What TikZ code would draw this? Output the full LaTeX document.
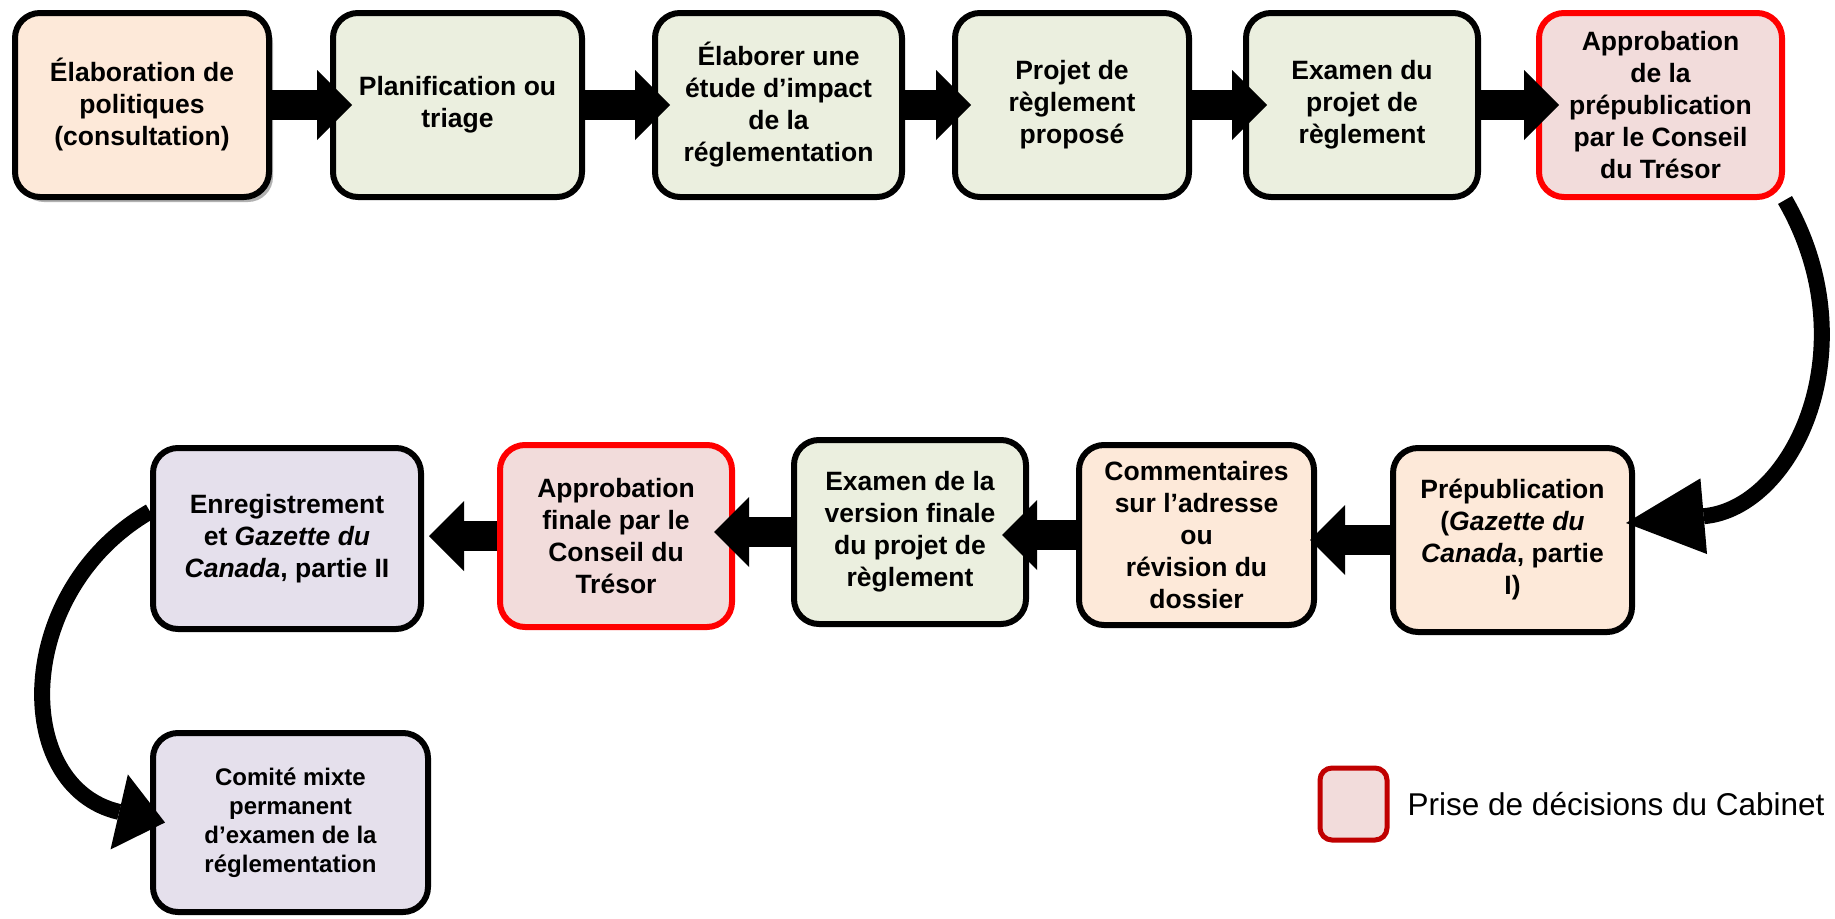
\documentclass[tikz,border=0pt]{standalone}
\usepackage{fontspec}
\setmainfont{Liberation Sans}
\usepackage{tikz}
\usetikzlibrary{arrows.meta}
\usetikzlibrary{positioning}
\usetikzlibrary{calc}
\usetikzlibrary{shadows}
\definecolor{peachfill}{HTML}{FDE9D9}
\definecolor{sagefill}{HTML}{EBEFDF}
\definecolor{cabinetfill}{HTML}{F2DCDB}
\definecolor{lilacfill}{HTML}{E5E0EC}
\definecolor{legendred}{HTML}{C00000}
\tikzset{
    stage/.style={draw=black, line width=6pt, rounded corners=25pt, align=center, inner sep=2pt,
        font=\bfseries\fontsize{26.5}{32}\selectfont},
    peach/.style={stage, fill=peachfill},
    sage/.style={stage, fill=sagefill},
    cabinet/.style={stage, fill=cabinetfill, draw=red},
    lilac/.style={stage, fill=lilacfill},
    flow/.style={draw=black, line width=30pt,
        -{Triangle[length=35pt,width=70pt,line width=0pt]}},
    loopflow/.style={draw=black, line width=16pt},
}

\begin{document}
\begin{tikzpicture}[x=1pt, y=1pt]
		\useasboundingbox (0,0) rectangle (1835,-918);
		% top row
		\node[peach, minimum width=254pt, minimum height=184pt,
			drop shadow={shadow xshift=4pt, shadow yshift=-5pt, fill=black, opacity=0.3}]
			(b1) at (142,-105) {Élaboration de\\politiques\\(consultation)};
		\node[sage, minimum width=249pt, minimum height=184pt] (b2) at (457.5,-105) {Planification ou\\triage};
		\node[sage, minimum width=247pt, minimum height=184pt] (b3) at (778.5,-105) {Élaborer une\\étude d’impact\\de la\\réglementation};
		\node[sage, minimum width=234pt, minimum height=184pt] (b4) at (1072,-105) {Projet de\\règlement\\proposé};
		\node[sage, minimum width=232pt, minimum height=184pt] (b5) at (1362,-105) {Examen du\\projet de\\règlement};
		\node[cabinet, minimum width=243pt, minimum height=184pt] (b6) at (1660.5,-105) {Approbation\\de la\\prépublication\\par le Conseil\\du Trésor};
		%
		\draw[flow] (b1.east) -- ([xshift=22pt]b2.west);
		\draw[flow] (b2.east) -- ([xshift=18pt]b3.west);
		\draw[flow] (b3.east) -- ([xshift=19pt]b4.west);
		\draw[flow] (b4.east) -- ([xshift=24pt]b5.west);
		\draw[flow] (b5.east) -- ([xshift=23pt]b6.west);
		% middle row
		\node[peach, minimum width=239pt, minimum height=184pt] (b7) at (1512.5,-540) {Prépublication\\(\textit{Gazette du}\\\textit{Canada}, partie\\I)};
		\node[peach, minimum width=235pt, minimum height=180pt] (b8) at (1196.5,-535) {Commentaires\\sur l’adresse\\ou\\révision du\\dossier};
		\node[sage, minimum width=232pt, minimum height=184pt] (b9) at (910,-532) {Examen de la\\version finale\\du projet de\\règlement};
		\node[cabinet, minimum width=232pt, minimum height=182pt] (b10) at (616,-536) {Approbation\\finale par le\\Conseil du\\Trésor};
		\node[lilac, minimum width=268pt, minimum height=181pt] (b11) at (287,-538.5) {Enregistrement\\et \textit{Gazette du}\\\textit{Canada}, partie II};
		%
		\draw[loopflow, -{Triangle[length=78pt,width=76pt,line width=0pt]}]
			(b6.south east) to[out=-60, in=5, looseness=1.2] ([xshift=-9pt,yshift=17pt]b7.east);
		\draw[flow] (b7.west) -- ($(b8.east |- b7.west)+(-7,0)$);
		\draw[flow] (b8.west) -- ($(b9.east |- b8.west)+(-27,0)$);
		\draw[flow] (b9.west) -- ($(b10.east |- b9.west)+(-21,0)$);
		\draw[flow] (b10.west) -- ($(b11.east |- b10.west)+(5,0)$);
		% bottom row
		\node[lilac, minimum width=275pt, minimum height=179pt,
			font=\bfseries\fontsize{24}{29}\selectfont]
			(b12) at (290.5,-822.5) {Comité mixte\\permanent\\d’examen de la\\réglementation};
		\draw[loopflow, -{Triangle[length=47pt,width=77pt,line width=0pt]}]
			([yshift=27pt]b11.west) to[out=210, in=167, looseness=1.3] ([xshift=15pt]b12.west);
		% legend
		\node[draw=legendred, fill=cabinetfill, line width=5pt, rounded corners=12pt,
			minimum width=67pt, minimum height=72pt] (key) at (1353.5,-804) {};
		\node[right=18pt of key, inner sep=0pt, font=\fontsize{31.5}{38}\selectfont] (keytext) {Prise de décisions du Cabinet};
	\end{tikzpicture}
\end{document}
